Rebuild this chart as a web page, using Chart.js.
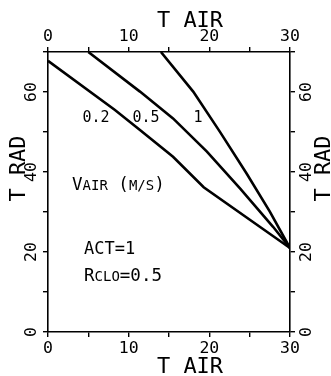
<!DOCTYPE html>
<html lang="en">
<head>
<meta charset="UTF-8">
<title>T RAD vs T AIR</title>
<script src="https://cdn.jsdelivr.net/npm/chart.js@4.4.1/dist/chart.umd.min.js"></script>
<style>
  html, body { margin: 0; padding: 0; background: #fff; }
  #wrap { width: 331px; height: 376px; }
</style>
</head>
<body>
<div id="wrap"><canvas id="chart" width="331" height="376"></canvas></div>
<script>
// air speed series (m/s)
const vAirLabels = ['0.2', '0.5', '1'];

// T AIR / T RAD points
const tAir02 = [0, 8.3, 11.4, 15.5, 19.3, 30];
const tRad02 = [67.8, 55.5, 50.5, 43.8, 36.2, 21.0];

const tAir05 = [5.0, 11.4, 15.5, 19.7, 23.8, 27.9, 30];
const tRad05 = [70, 60.1, 53.4, 45.1, 35.9, 26.3, 21.0];

const tAir1 = [14.0, 18.0, 21.3, 24.6, 27.5, 30];
const tRad1 = [70, 60.1, 50.1, 39.7, 30.1, 21.0];

// axes
const xLabelValues = [0, 10, 20, 30];
const yLabelValues = [0, 20, 40, 60];

const MONO = '"DejaVu Sans Mono", "Liberation Mono", monospace';

function pts(xs, ys) {
    return xs.map((x, i) => ({ x: x, y: ys[i] }));
}

const lineStyle = { borderColor: '#000', borderWidth: 2.6, pointRadius: 0, fill: false, tension: 0 };

// draws runs of text with different sizes on one baseline
function drawRuns(ctx, x, y, runs) {
    runs.forEach(([txt, size]) => {
        ctx.font = size + 'px ' + MONO;
        ctx.fillText(txt, x, y);
        x += ctx.measureText(txt).width;
    });
}

const textPlugin = {
    id: 'texts',
    afterDraw(chart) {
        const ctx = chart.ctx;
        ctx.save();
        ctx.fillStyle = '#000';
        ctx.textBaseline = 'alphabetic';
        ctx.textAlign = 'left';

        // axis titles
        ctx.font = '22px ' + MONO;
        ctx.textAlign = 'center';
        ctx.fillText('T AIR', 190, 27);
        ctx.fillText('T AIR', 190, 373);
        [25, 330].forEach(bx => {
            ctx.save();
            ctx.translate(bx, 168.5);
            ctx.rotate(-Math.PI / 2);
            ctx.fillText('T RAD', 0, 0);
            ctx.restore();
        });

        // curve labels
        ctx.font = '15px ' + MONO;
        ctx.fillText(vAirLabels[0], 96, 122);
        ctx.fillText(vAirLabels[1], 146, 122);
        ctx.fillText(vAirLabels[2], 198, 122);

        ctx.textAlign = 'left';
        drawRuns(ctx, 72, 190, [['V', 17.5], ['AIR', 14], [' (', 17.5], ['M/S', 14], [')', 17.5]]);
        drawRuns(ctx, 84, 254, [['ACT=1', 17]]);
        drawRuns(ctx, 84, 281, [['R', 17.5], ['CLO', 14], ['=0.5', 17.5]]);
        ctx.restore();
    }
};

function fixSize(size) {
    return function (scale) {
        if (scale.isHorizontal()) scale.height = size;
        else scale.width = size;
    };
}

const tickFont = { family: MONO, size: 16.5 };
const gridStyle = { drawOnChartArea: false, drawTicks: true, tickLength: 5, color: '#000', lineWidth: 1.4 };
const borderStyle = { display: true, color: '#000', width: 1.6 };

function xAxis(position, pad, size) {
    return {
        type: 'linear', position: position, min: 0, max: 30,
        grid: gridStyle, border: borderStyle,
        ticks: {
            stepSize: 5, autoSkip: false, maxRotation: 0, font: tickFont, color: '#000', padding: pad,
            callback: v => xLabelValues.includes(v) ? String(v) : ''
        },
        afterFit: fixSize(size)
    };
}

function yAxis(position, pad, size) {
    return {
        type: 'linear', position: position, min: 0, max: 70,
        grid: gridStyle, border: borderStyle,
        ticks: {
            stepSize: 10, autoSkip: false, minRotation: 90, maxRotation: 90, crossAlign: 'center',
            font: tickFont, color: '#000', padding: pad,
            callback: v => yLabelValues.includes(v) ? String(v) : ''
        },
        afterFit: fixSize(size)
    };
}

new Chart(document.getElementById('chart'), {
    type: 'line',
    data: {
        datasets: [
            Object.assign({ label: vAirLabels[0], data: pts(tAir02, tRad02) }, lineStyle),
            Object.assign({ label: vAirLabels[1], data: pts(tAir05, tRad05) }, lineStyle),
            Object.assign({ label: vAirLabels[2], data: pts(tAir1, tRad1) }, lineStyle)
        ]
    },
    options: {
        responsive: false,
        animation: false,
        layout: { padding: 0 },
        plugins: { legend: { display: false }, tooltip: { enabled: false } },
        scales: {
            x: xAxis('bottom', 2, 44),
            x2: xAxis('top', 0, 52),
            y: yAxis('left', 1, 48),
            y2: yAxis('right', 2, 41)
        }
    },
    plugins: [textPlugin]
});
</script>
</body>
</html>
